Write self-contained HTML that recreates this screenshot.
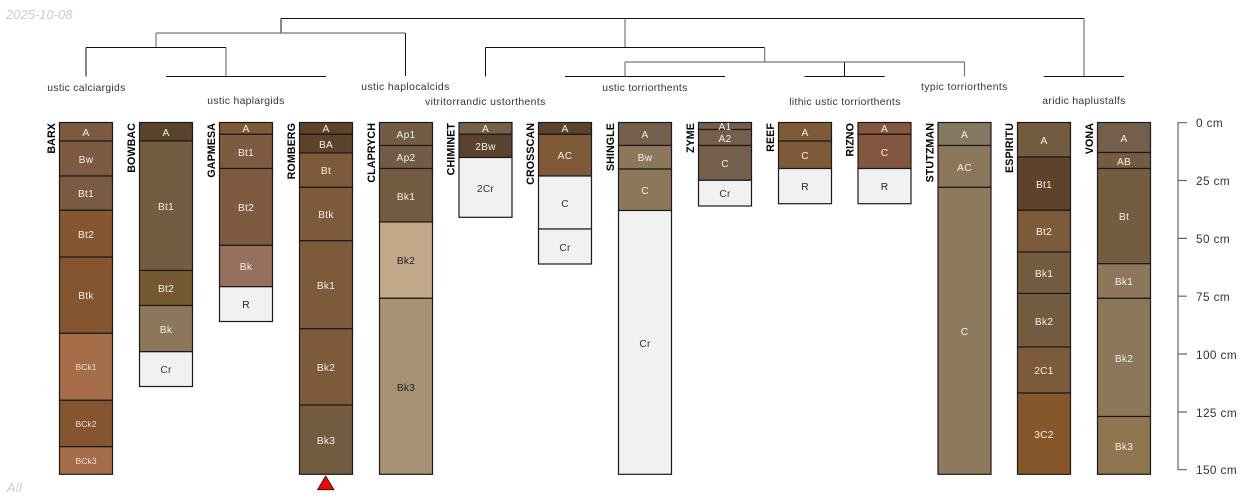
<!DOCTYPE html>
<html><head><meta charset="utf-8"><style>
html,body{margin:0;padding:0;background:#fff}
svg{display:block}
text{font-family:"Liberation Sans",sans-serif}
.h rect{stroke:#1a1a1a;stroke-width:1.2}
.h text{font-size:10.2px;text-anchor:middle;fill:#f2f0ec;letter-spacing:.25px}
.h text.d{fill:#222}
.h text.g{fill:#333}
.h text.s{font-size:8.6px;fill:#e6dfd6;letter-spacing:0}
.id{font-size:10.67px;font-weight:bold;text-anchor:end;fill:#000;letter-spacing:.1px}
.t{font-size:10.4px;fill:#333}
.a{font-size:11.8px;fill:#333;letter-spacing:.4px}
.l{stroke:#111;stroke-width:1;fill:none}
.m{stroke:#777;stroke-width:1.2;fill:none}
</style></head><body>
<svg width="1250" height="500" viewBox="0 0 1250 500" xmlns="http://www.w3.org/2000/svg">
<text x="6" y="19" font-size="13" font-style="italic" fill="#ccc">2025-10-08</text>
<text x="6.7" y="492" font-size="13" font-style="italic" fill="#ccc" letter-spacing=".4">All</text>

<path class="l" d="M281 18.5H1084M281 18.5V33"/>
<path class="m" d="M156 33H405.5M156 33V47M625 18.5V47M1084 18.5V76M226 47.5V76"/>
<path class="l" d="M405.5 33V76M86 47.5H226M86 47.5V76.5M166 76.5H326M485.5 47.5H764.7M485.5 47.5V76.5M565 76.5H725M804.5 76.5H884.7M844.5 62V76.5M1043.7 76.5H1124"/>
<path class="m" d="M625 62H964.5M625 62V76.5M764.7 47.5V62M964.5 62V76.5"/>

<text class="t" x="47.3" y="91" textLength="78" lengthAdjust="spacing">ustic calciargids</text>
<text class="t" x="207.3" y="104" textLength="77" lengthAdjust="spacing">ustic haplargids</text>
<text class="t" x="361.3" y="90" textLength="88" lengthAdjust="spacing">ustic haplocalcids</text>
<text class="t" x="425" y="105" textLength="120.3" lengthAdjust="spacing">vitritorrandic ustorthents</text>
<text class="t" x="602.3" y="91" textLength="85" lengthAdjust="spacing">ustic torriorthents</text>
<text class="t" x="789.3" y="105" textLength="111" lengthAdjust="spacing">lithic ustic torriorthents</text>
<text class="t" x="921" y="90" textLength="86.3" lengthAdjust="spacing">typic torriorthents</text>
<text class="t" x="1042.3" y="104" textLength="83" lengthAdjust="spacing">aridic haplustalfs</text>

<text class="id" transform="translate(55 123) rotate(-90)">BARX</text>
<g class="h" transform="translate(59.5 0)">
<rect width="53" y="122.5" height="18.5" fill="#7E5A40"/><rect width="53" y="141" height="35" fill="#7E5A40"/><rect width="53" y="176" height="34.3" fill="#7B5A42"/><rect width="53" y="210.3" height="46.7" fill="#85562F"/><rect width="53" y="257" height="76.3" fill="#85552F"/><rect width="53" y="333.3" height="67" fill="#A56E49"/><rect width="53" y="400.3" height="46.4" fill="#85552F"/><rect width="53" y="446.7" height="27.6" fill="#A56E49"/>
<text x="26.5" y="136">A</text><text x="26.5" y="163">Bw</text><text x="26.5" y="197">Bt1</text><text x="26.5" y="238">Bt2</text><text x="26.5" y="299">Btk</text><text class="s" x="26.5" y="370">BCk1</text><text class="s" x="26.5" y="427">BCk2</text><text class="s" x="26.5" y="464">BCk3</text></g>

<text class="id" transform="translate(135 123) rotate(-90)">BOWBAC</text>
<g class="h" transform="translate(139.5 0)">
<rect width="53" y="122.5" height="18.5" fill="#59432B"/><rect width="53" y="141" height="129.5" fill="#735C40"/><rect width="53" y="270.5" height="35" fill="#755932"/><rect width="53" y="305.5" height="46.2" fill="#8D775B"/><rect width="53" y="351.7" height="34.8" fill="#F1F1F1"/>
<text x="26.5" y="136">A</text><text x="26.5" y="210">Bt1</text><text x="26.5" y="292">Bt2</text><text x="26.5" y="333">Bk</text><text class="g" x="26.5" y="373">Cr</text></g>

<text class="id" transform="translate(215 123) rotate(-90)">GAPMESA</text>
<g class="h" transform="translate(219.5 0)">
<rect width="53" y="122.5" height="11.8" fill="#7F5A38"/><rect width="53" y="134.3" height="34.2" fill="#7E5A40"/><rect width="53" y="168.5" height="76.8" fill="#7E5A40"/><rect width="53" y="245.3" height="41.4" fill="#96705A"/><rect width="53" y="286.7" height="34.8" fill="#F1F1F1"/>
<text x="26.5" y="132">A</text><text x="26.5" y="156">Bt1</text><text x="26.5" y="211">Bt2</text><text x="26.5" y="270">Bk</text><text class="d" x="26.5" y="308">R</text></g>

<text class="id" transform="translate(295 123) rotate(-90)">ROMBERG</text>
<g class="h" transform="translate(299.5 0)">
<rect width="53" y="122.5" height="11.8" fill="#5E4229"/><rect width="53" y="134.3" height="18.7" fill="#5E4229"/><rect width="53" y="153" height="34.3" fill="#7D5A3A"/><rect width="53" y="187.3" height="53.4" fill="#7D5A3A"/><rect width="53" y="240.7" height="88" fill="#7D5A3A"/><rect width="53" y="328.7" height="76.3" fill="#7D5A3A"/><rect width="53" y="405" height="69.3" fill="#735C40"/>
<text x="26.5" y="132">A</text><text x="26.5" y="148">BA</text><text x="26.5" y="174">Bt</text><text x="26.5" y="218">Btk</text><text x="26.5" y="289">Bk1</text><text x="26.5" y="371">Bk2</text><text x="26.5" y="444">Bk3</text></g>
<polygon points="325.7,476 334,489.7 317.5,489.7" fill="#f00" stroke="#111" stroke-width="0.8"/>

<text class="id" transform="translate(375 123) rotate(-90)">CLAPRYCH</text>
<g class="h" transform="translate(379.5 0)">
<rect width="53" y="122.5" height="23" fill="#735C45"/><rect width="53" y="145.5" height="23" fill="#735C45"/><rect width="53" y="168.5" height="53.5" fill="#735C40"/><rect width="53" y="222" height="76.3" fill="#C2A98A"/><rect width="53" y="298.3" height="176" fill="#A79273"/>
<text x="26.5" y="138">Ap1</text><text x="26.5" y="161">Ap2</text><text x="26.5" y="200">Bk1</text><text class="d" x="26.5" y="264">Bk2</text><text class="d" x="26.5" y="391">Bk3</text></g>

<text class="id" transform="translate(454.5 123) rotate(-90)">CHIMINET</text>
<g class="h" transform="translate(459 0)">
<rect width="53" y="122.5" height="11.8" fill="#735F4A"/><rect width="53" y="134.3" height="23.2" fill="#59432F"/><rect width="53" y="157.5" height="59.8" fill="#F1F1F1"/>
<text x="26.5" y="132">A</text><text x="26.5" y="150">2Bw</text><text class="g" x="26.5" y="192">2Cr</text></g>

<text class="id" transform="translate(534 123) rotate(-90)">CROSSCAN</text>
<g class="h" transform="translate(538.5 0)">
<rect width="53" y="122.5" height="11.8" fill="#59432F"/><rect width="53" y="134.3" height="41.7" fill="#7F5A38"/><rect width="53" y="176" height="53" fill="#F1F1F1"/><rect width="53" y="229" height="35" fill="#F1F1F1"/>
<text x="26.5" y="132">A</text><text x="26.5" y="159">AC</text><text class="g" x="26.5" y="207">C</text><text class="g" x="26.5" y="251">Cr</text></g>

<text class="id" transform="translate(614 123) rotate(-90)">SHINGLE</text>
<g class="h" transform="translate(618.5 0)">
<rect width="53" y="122.5" height="23" fill="#735F4C"/><rect width="53" y="145.5" height="23.5" fill="#8D775B"/><rect width="53" y="169" height="41.5" fill="#8D775B"/><rect width="53" y="210.5" height="263.8" fill="#F1F1F1"/>
<text x="26.5" y="138">A</text><text x="26.5" y="161">Bw</text><text x="26.5" y="194">C</text><text class="g" x="26.5" y="347">Cr</text></g>

<text class="id" transform="translate(694 123) rotate(-90)">ZYME</text>
<g class="h" transform="translate(698.5 0)">
<rect width="53" y="122.5" height="7" fill="#735F4C"/><rect width="53" y="129.5" height="16" fill="#735F4C"/><rect width="53" y="145.5" height="34.8" fill="#735F4C"/><rect width="53" y="180.3" height="25.7" fill="#F1F1F1"/>
<text x="26.5" y="130">A1</text><text x="26.5" y="142">A2</text><text x="26.5" y="167">C</text><text class="g" x="26.5" y="197">Cr</text></g>

<text class="id" transform="translate(774 123) rotate(-90)">REEF</text>
<g class="h" transform="translate(778.5 0)">
<rect width="53" y="122.5" height="18.5" fill="#7F5A38"/><rect width="53" y="141" height="27.5" fill="#7F5A38"/><rect width="53" y="168.5" height="35.2" fill="#F1F1F1"/>
<text x="26.5" y="136">A</text><text x="26.5" y="159">C</text><text class="d" x="26.5" y="190">R</text></g>

<text class="id" transform="translate(853.5 123) rotate(-90)">RIZNO</text>
<g class="h" transform="translate(858 0)">
<rect width="53" y="122.5" height="11.8" fill="#83573F"/><rect width="53" y="134.3" height="34.2" fill="#83573F"/><rect width="53" y="168.5" height="35.2" fill="#F1F1F1"/>
<text x="26.5" y="132">A</text><text x="26.5" y="156">C</text><text class="d" x="26.5" y="190">R</text></g>

<text class="id" transform="translate(933.5 123) rotate(-90)">STUTZMAN</text>
<g class="h" transform="translate(938 0)">
<rect width="53" y="122.5" height="23" fill="#857861"/><rect width="53" y="145.5" height="41.8" fill="#8D775B"/><rect width="53" y="187.3" height="287" fill="#8D795B"/>
<text x="26.5" y="138">A</text><text x="26.5" y="171">AC</text><text x="26.5" y="335">C</text></g>

<text class="id" transform="translate(1013 123) rotate(-90)">ESPIRITU</text>
<g class="h" transform="translate(1017.5 0)">
<rect width="53" y="122.5" height="34.5" fill="#735C40"/><rect width="53" y="157" height="53.3" fill="#5E4229"/><rect width="53" y="210.3" height="41.7" fill="#7D5A3A"/><rect width="53" y="252" height="41.5" fill="#735C40"/><rect width="53" y="293.5" height="53.5" fill="#735C40"/><rect width="53" y="347" height="46" fill="#7D5A3A"/><rect width="53" y="393" height="81.3" fill="#85572B"/>
<text x="26.5" y="144">A</text><text x="26.5" y="188">Bt1</text><text x="26.5" y="235">Bt2</text><text x="26.5" y="277">Bk1</text><text x="26.5" y="325">Bk2</text><text x="26.5" y="374">2C1</text><text x="26.5" y="438">3C2</text></g>

<text class="id" transform="translate(1093 123) rotate(-90)">VONA</text>
<g class="h" transform="translate(1097.5 0)">
<rect width="53" y="122.5" height="30" fill="#735F4C"/><rect width="53" y="152.5" height="16" fill="#755C40"/><rect width="53" y="168.5" height="95.2" fill="#735C40"/><rect width="53" y="263.7" height="34.6" fill="#8D775B"/><rect width="53" y="298.3" height="118.2" fill="#8D775B"/><rect width="53" y="416.5" height="57.8" fill="#8F7550"/>
<text x="26.5" y="142">A</text><text x="26.5" y="165">AB</text><text x="26.5" y="220">Bt</text><text x="26.5" y="285">Bk1</text><text x="26.5" y="362">Bk2</text><text x="26.5" y="450">Bk3</text></g>

<path d="M1187 122.7H1178V469.7H1187M1178 180.5H1187M1178 238.4H1187M1178 296.2H1187M1178 354H1187M1178 412H1187" fill="none" stroke="#666" stroke-width="1.2"/>
<text class="a" x="1196" y="127">0 cm</text>
<text class="a" x="1196" y="185">25 cm</text>
<text class="a" x="1196" y="243">50 cm</text>
<text class="a" x="1196" y="301">75 cm</text>
<text class="a" x="1196" y="359">100 cm</text>
<text class="a" x="1196" y="417">125 cm</text>
<text class="a" x="1196" y="474">150 cm</text>
</svg>
</body></html>
